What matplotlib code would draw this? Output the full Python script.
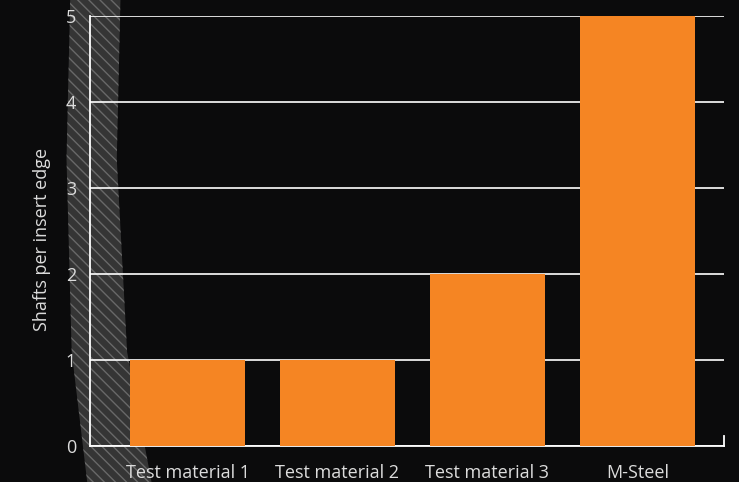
import numpy as np
import matplotlib.pyplot as plt
from matplotlib.patches import Polygon

materials = ["Test material 1", "Test material 2", "Test material 3", "M-Steel"]
shafts = [1, 1, 2, 5]
yticks = [0, 1, 2, 3, 4, 5]

plt.rcParams['font.family'] = ['Open Sans', 'DejaVu Sans']

fig = plt.figure(figsize=(7.39, 4.82), dpi=100)
fig.patch.set_facecolor('#0b0b0c')

# rope-like band in the background on the left
rope_y = np.array([1.0, 0.67, 0.27, 0.0])
rope_l = np.array([0.095, 0.090, 0.097, 0.118])
rope_r = np.array([0.163, 0.158, 0.172, 0.205])
pts = list(zip(rope_l, rope_y)) + list(zip(rope_r[::-1], rope_y[::-1]))
bg = fig.add_axes([0, 0, 1, 1], zorder=-1)
bg.set_xlim(0, 1)
bg.set_ylim(0, 1)
bg.axis('off')
bg.add_patch(Polygon(pts, closed=True, facecolor='#444444', edgecolor='#7a7a7a',
                     hatch='\\\\\\', linewidth=0, alpha=0.75))

ax = fig.add_axes([0.1218, 0.0747, 0.8579, 0.8921])
ax.set_facecolor('none')

x = np.arange(len(materials))
ax.bar(x, shafts, width=0.767, color='#f58523', zorder=3)

ax.set_xlim(-0.65, 3.577)
ax.set_ylim(0, 5)
ax.set_yticks(yticks)
ax.yaxis.grid(True, color='white', linewidth=1.2, zorder=1)
ax.set_axisbelow(True)

ax.set_xticks(x)
ax.set_xticklabels(materials)
ax.tick_params(axis='both', length=0, colors='#dcdcdc', labelsize=13)
ax.tick_params(axis='x', pad=13)
ax.tick_params(axis='y', pad=10)

for s in ['top', 'right']:
    ax.spines[s].set_visible(False)
for s in ['left', 'bottom']:
    ax.spines[s].set_color('white')
    ax.spines[s].set_linewidth(1.3)
ax.axvline(3.577, ymin=0, ymax=0.023, color='white', linewidth=1.3, clip_on=False)

ax.set_ylabel("Shafts per insert edge", color='#dcdcdc', fontsize=13)
ax.yaxis.set_label_coords(-0.062, 0.48)

fig.savefig('out.png', dpi=100, facecolor=fig.get_facecolor())
